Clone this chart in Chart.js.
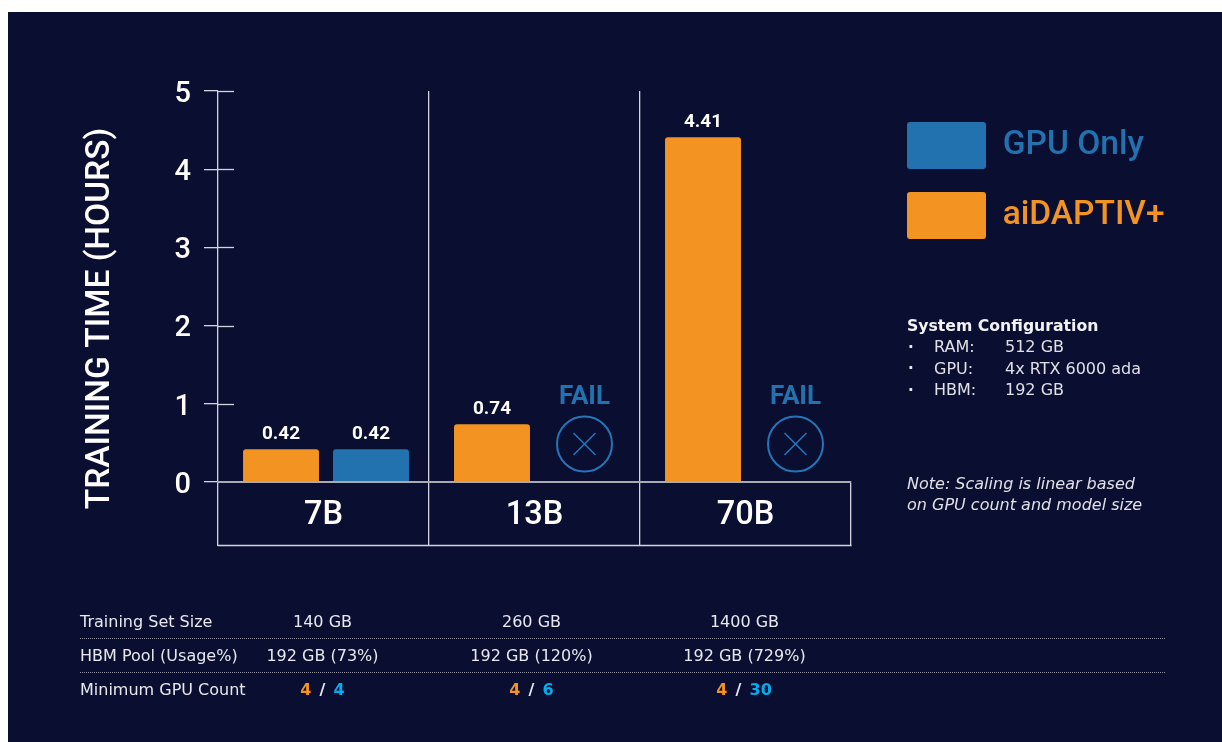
<!DOCTYPE html>
<html><head><meta charset="utf-8">
<style>html,body{margin:0;padding:0;background:#fff}canvas{display:block}</style>
<script src="https://cdn.jsdelivr.net/npm/chart.js@4/dist/chart.umd.min.js"></script>
</head><body><canvas id="c" width="1222" height="742"></canvas>
<script>
const categories = ['7B','13B','70B'];
const aidaptiv = [0.42,0.74,4.41];
const gpuOnly = [0.42,null,null];
const valueLabels = ['0.42','0.74','4.41'];
const gpuLabels = ['0.42','FAIL','FAIL'];
const yTicks = [0,1,2,3,4,5];
const rowNames = ['Training Set Size','HBM Pool (Usage%)','Minimum GPU Count'];
const trainingSet = ['140 GB','260 GB','1400 GB'];
const hbmPool = ['192 GB (73%)','192 GB (120%)','192 GB (729%)'];
const gpuCountA = ['4','4','4'];
const gpuCountB = ['4','6','30'];
const configLines = [['RAM:','512 GB'],['GPU:','4x RTX 6000 ada'],['HBM:','192 GB']];
const noteLines = ['Note: Scaling is linear based','on GPU count and model size'];

const ORANGE='#f39322', BLUE='#2272b0', BG='#0a0e30', LINE='#d4d5dc', CYAN='#00aeef';
const ROBOTO='Roboto, sans-serif', DEJAVU='"DejaVu Sans", sans-serif';
const BAR_SHIFT=2.5;

function txt(ctx,s,x,y,font,color,align){
  ctx.font=font;ctx.fillStyle=color;ctx.textAlign=align||'left';ctx.textBaseline='middle';ctx.fillText(s,x,y);
}
const decor={
  id:'decor',
  beforeDraw(chart){
    const ctx=chart.ctx;ctx.save();
    ctx.fillStyle='#fff';ctx.fillRect(0,0,1222,742);
    ctx.fillStyle=BG;ctx.fillRect(8,12,1214,730);
    ctx.restore();
  },
  afterLayout(chart){
    const l=chart.legend;
    const w=l.width,h=l.height;
    l.left=884;l.top=99;l.right=l.left+w;l.bottom=l.top+h;
  },
  beforeDatasetsDraw(chart){chart.ctx.save();chart.ctx.translate(BAR_SHIFT,0);},
  afterDatasetsDraw(chart){
    const ctx=chart.ctx;ctx.restore();ctx.save();
    const {x,y}=chart.scales,a=chart.chartArea;
    ctx.strokeStyle=LINE;ctx.lineWidth=1.3;
    yTicks.forEach(v=>{const p=Math.round(y.getPixelForValue(v))+.5;
      if(v===0)return;ctx.beginPath();ctx.moveTo(a.left,p);ctx.lineTo(a.left+16,p);ctx.stroke();});
    ctx.beginPath();ctx.moveTo(a.left,x.bottom-.5);ctx.lineTo(a.right+.5,x.bottom-.5);ctx.stroke();
    const m0=chart.getDatasetMeta(0),m1=chart.getDatasetMeta(1);
    const lf='700 19px '+ROBOTO;
    categories.forEach((c,i)=>{
      const e=m0.data[i];
      txt(ctx,valueLabels[i],e.x+BAR_SHIFT,e.y-15,lf,'#fff','center');
      const b=m1.data[i];
      if(gpuOnly[i]!==null){
        txt(ctx,gpuLabels[i],b.x+BAR_SHIFT,b.y-15,lf,'#fff','center');
      }else{
        const cx=b.x+BAR_SHIFT+2.5;
        txt(ctx,gpuLabels[i],cx,397,'700 26px '+ROBOTO,BLUE,'center');
        ctx.strokeStyle='#2475b8';ctx.lineWidth=2;
        ctx.beginPath();ctx.arc(cx,444,27.5,0,Math.PI*2);ctx.stroke();
        ctx.lineWidth=1.6;ctx.beginPath();
        ctx.moveTo(cx-11,433);ctx.lineTo(cx+11,455);ctx.moveTo(cx+11,433);ctx.lineTo(cx-11,455);ctx.stroke();
      }
    });
    ctx.save();ctx.translate(101,318.5);ctx.rotate(-Math.PI/2);
    txt(ctx,'TRAINING TIME (HOURS)',0,0,'500 33.5px '+ROBOTO,'#fff','center');ctx.restore();
    const tf='16px '+DEJAVU;
    const cols=categories.map((c,i)=>x.getPixelForValue(i));
    const off=[-1,-3,-1];
    const countOff=[0,0,-6];
    rowNames.forEach((n,r)=>txt(ctx,n,80,[623,657,691][r],tf,'#e8e8ee','left'));
    categories.forEach((c,i)=>{
      const cx=cols[i]+off[i];
      txt(ctx,trainingSet[i],cx,623,tf,'#e8e8ee','center');
      txt(ctx,hbmPool[i],cx,657,tf,'#e8e8ee','center');
      const bf='700 16px '+DEJAVU, sx=cx+countOff[i];
      txt(ctx,gpuCountA[i],sx-11,691,bf,ORANGE,'right');
      txt(ctx,'/',sx,691,bf,'#e8e8ee','center');
      txt(ctx,gpuCountB[i],sx+11,691,bf,CYAN,'left');
    });
    ctx.strokeStyle='#8d8f9f';ctx.lineWidth=1;ctx.setLineDash([1,1]);
    [638.5,672.5].forEach(p=>{ctx.beginPath();ctx.moveTo(80,p);ctx.lineTo(1166,p);ctx.stroke();});
    ctx.setLineDash([]);
    txt(ctx,'System Configuration',907,327,'700 15.7px '+DEJAVU,'#f2f2f5');
    configLines.forEach((l,i)=>{
      const yy=348+i*21.5;
      txt(ctx,'\u00B7',908,yy,'700 15px '+DEJAVU,'#e8e8ee');
      txt(ctx,l[0],934,yy,'16px '+DEJAVU,'#e0e0e6');
      txt(ctx,l[1],1005,yy,'16px '+DEJAVU,'#e0e0e6');
    });
    noteLines.forEach((s,i)=>txt(ctx,s,907,485+i*21,'italic 16px '+DEJAVU,'#e0e0e6'));
    ctx.restore();
  }
};
new Chart(document.getElementById('c'),{
  type:'bar',
  data:{labels:categories,datasets:[
    {label:'aiDAPTIV+',data:aidaptiv,backgroundColor:ORANGE,borderRadius:{topLeft:3,topRight:3},borderSkipped:'bottom',categoryPercentage:0.853,barPercentage:0.844},
    {label:'GPU Only',data:gpuOnly,backgroundColor:BLUE,borderRadius:{topLeft:3,topRight:3},borderSkipped:'bottom',categoryPercentage:0.853,barPercentage:0.844}
  ]},
  plugins:[decor],
  options:{
    responsive:false,animation:false,
    layout:{padding:{left:0,right:371,top:91,bottom:196}},
    plugins:{
      tooltip:{enabled:false},
      legend:{
        position:'chartArea',align:'start',
        labels:{
          boxWidth:79,boxHeight:47,padding:23,useBorderRadius:true,borderRadius:3,
          font:{family:'Roboto',size:33.5,weight:'500'},
          generateLabels(chart){
            return [1,0].map(i=>{const d=chart.data.datasets[i];return{
              text:d.label,fillStyle:d.backgroundColor,strokeStyle:d.backgroundColor,lineWidth:0,
              fontColor:d.backgroundColor,datasetIndex:i,borderRadius:3,hidden:false};});
          }
        }
      }
    },
    scales:{
      x:{
        afterFit(s){s.height=64;},
        grid:{offset:true,color:c=>c.index===undefined?'transparent':LINE,tickColor:LINE,lineWidth:1.3,tickLength:64,drawOnChartArea:true},
        border:{display:true,color:'#a9aab4',width:2,z:1},
        ticks:{color:'#fff',font:{family:'Roboto',size:32.5,weight:'500'},padding:-50,maxRotation:0}
      },
      y:{
        min:0,max:5,
        afterFit(s){s.width=218;},
        afterBuildTicks(s){s.ticks=yTicks.map(v=>({value:v}));},
        grid:{drawOnChartArea:false,tickColor:LINE,tickLength:14,lineWidth:1.3},
        border:{display:false},
        ticks:{color:'#fff',font:{family:'Roboto',size:29,weight:'500'},padding:13,labelOffset:3.5}
      }
    }
  }
});
</script></body></html>
